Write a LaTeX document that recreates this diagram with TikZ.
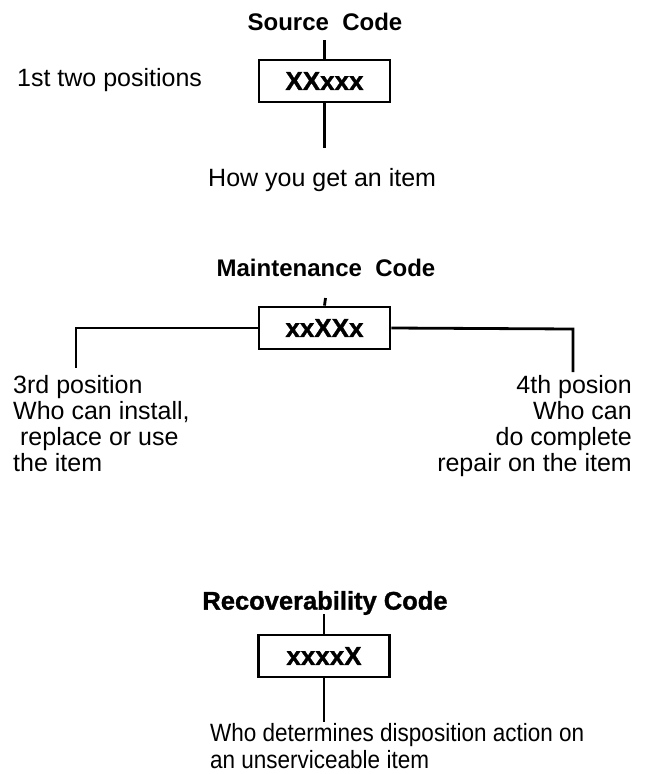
\documentclass[tikz,border=0pt]{standalone}
\usepackage{fontspec}
\setmainfont{Liberation Sans}
\newfontfamily\heavyfont{Liberation Sans}[BoldFeatures={FakeBold=1.2}]
\newfontfamily\narrowfont{Liberation Sans}[FakeStretch=0.9]
\begin{document}
\begin{tikzpicture}[x=1pt,y=-1pt,
  ln/.style={line width=2.8pt},
  codebox/.style={draw,line width=2.8pt,minimum width=131pt,minimum height=42pt,inner sep=0pt,font=\fontsize{26}{28}\selectfont\heavyfont\bfseries},
  title/.style={inner sep=0pt,font=\fontsize{24}{26}\selectfont\bfseries},
  txt/.style={inner sep=0pt,font=\fontsize{25}{26}\selectfont}]
\useasboundingbox (0,0) rectangle (649,774);
% Source code
\node[title] (st) at (325,22) {Source\ \ Code};
\node[codebox] (sb) at (324.5,81) {XXxxx};
\coordinate (s1) at (324.5,40);
\coordinate (s2) at (324.5,148);
\draw[ln] (s1) -- (sb.north);
\draw[ln] (sb.south) -- (s2);
\node[txt,anchor=west] (sl) at (17,80) {1st two positions};
\node[txt,anchor=west] (sh) at (208,180) {How you get an item};
% Maintenance code
\node[title] (mt) at (326,268) {Maintenance\ \ Code};
\node[codebox] (mb) at (324.5,328) {xxXXx};
\coordinate (m0) at (325.5,298);
\coordinate (ml1) at (76,328);
\coordinate (ml2) at (76,368);
\coordinate (mr1) at (573,329);
\coordinate (mr2) at (573,372);
\draw[ln] (m0) -- (mb.north);
\draw[ln,line join=miter] (mb.west) -- (ml1) -- (ml2);
\draw[ln,line join=miter] (mb.east) -- (mr1) -- (mr2);
\node[txt,anchor=north west,align=left] (mlt) at (13,375) {3rd position\\Who can install,\\\ replace or use\\the item};
\node[txt,anchor=north east,align=right] (mrt) at (632,375) {4th posion\\Who can\\do complete\\repair on the item};
% Recoverability code
\node[title,font=\fontsize{25.5}{27}\selectfont\heavyfont\bfseries] (rt) at (325,603) {Recoverability Code};
\node[codebox] (rb) at (324,656) {xxxxX};
\coordinate (r1) at (324,614);
\coordinate (r2) at (324,722);
\draw[ln] (r1) -- (rb.north);
\draw[ln] (rb.south) -- (r2);
\node[txt,anchor=north west,align=left,font=\fontsize{25}{27}\selectfont\narrowfont] (rtx) at (210,723) {Who determines disposition action on\\an unserviceable item};
\end{tikzpicture}
\end{document}
